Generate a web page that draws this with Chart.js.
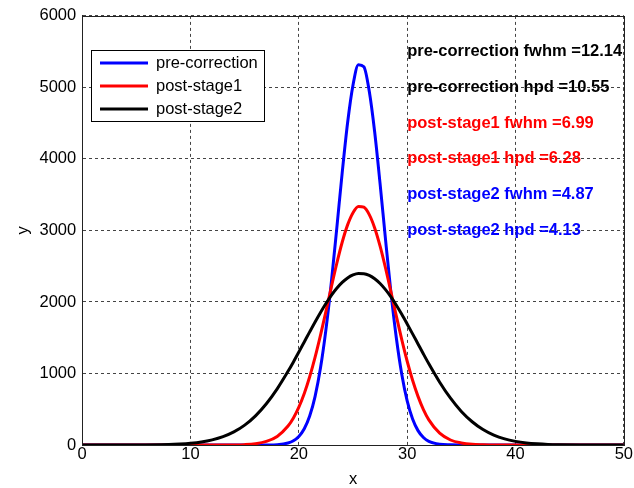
<!DOCTYPE html>
<html>
<head>
<meta charset="utf-8">
<script src="https://cdn.jsdelivr.net/npm/chart.js@4/dist/chart.umd.min.js"></script>
<style>
html, body { margin: 0; padding: 0; background: #fff; }
#wrap { width: 634px; height: 488px; }
</style>
</head>
<body>
<div id="wrap"><canvas id="chart" width="634" height="488"></canvas></div>
<script>
// x positions of the samples (finer around the peaks)
const xValues = [0, 5, 8, 9, 10, 11, 12, 13, 14, 15, 16, 17, 18, 19,
    19.5, 20, 20.5, 21, 21.5, 22, 22.5, 23, 23.5, 24, 24.5, 25, 25.5, 26,
    26.5, 27, 27.5, 28, 28.5, 29, 29.5, 30, 30.5, 31, 31.5, 32,
    33, 34, 35, 36, 37, 38, 39, 40, 41, 42, 43, 44, 46, 50];
const preCorrection = [0, 0, 0, 0, 0, 0, 0, 0, 0, 0, 0, 1, 5, 28,
    60, 120, 227, 405, 681, 1079, 1613, 2276, 3030, 3805, 4506, 5034, 5318, 5290,
    4946, 4376, 3652, 2875, 2135, 1496, 989, 616, 363, 201, 105, 52,
    11, 2, 0, 0, 0, 0, 0, 0, 0, 0, 0, 0, 0, 0];
const postStage1 = [0, 0, 0, 0, 0, 0, 0, 0, 1, 5, 18, 50, 120, 265,
    378, 529, 721, 955, 1229, 1537, 1869, 2209, 2538, 2835, 3078, 3249, 3336, 3325,
    3221, 3035, 2780, 2475, 2142, 1802, 1473, 1171, 905, 680, 496, 352,
    165, 70, 28, 9, 3, 0, 0, 0, 0, 0, 0, 0, 0, 0];
const postStage2 = [0, 0, 6, 13, 24, 42, 72, 117, 183, 278, 408, 577, 785, 1030,
    1162, 1300, 1441, 1582, 1721, 1854, 1978, 2092, 2191, 2273, 2336, 2378, 2398, 2396,
    2371, 2325, 2258, 2172, 2070, 1954, 1828, 1693, 1554, 1413, 1272, 1135,
    878, 654, 469, 325, 216, 138, 85, 51, 29, 16, 8, 4, 1, 0];
const seriesNames = ["pre-correction", "post-stage1", "post-stage2"];
const xTicks = [0, 10, 20, 30, 40, 50];
const yTicks = [0, 1000, 2000, 3000, 4000, 5000, 6000];
const statLabels = [
    "pre-correction fwhm =12.14",
    "pre-correction hpd =10.55",
    "post-stage1 fwhm =6.99",
    "post-stage1 hpd =6.28",
    "post-stage2 fwhm =4.87",
    "post-stage2 hpd =4.13",
];

const FONT = "'Liberation Sans', Arial, sans-serif";
const statColors = ["#000000", "#000000", "#ff0000", "#ff0000", "#0000ff", "#0000ff"];

function toPoints(values) {
    return xValues.map((x, i) => ({ x: x, y: values[i] }));
}

// box round the axes, the text block on the right and the legend
const extras = {
    id: "extras",
    afterDatasetsDraw(chart) {
        const ctx = chart.ctx;
        const a = chart.chartArea;
        const sx = chart.scales.x;
        const sy = chart.scales.y;
        ctx.save();

        ctx.font = "bold 16.5px " + FONT;
        ctx.textAlign = "left";
        ctx.textBaseline = "middle";
        statLabels.forEach((t, i) => {
            ctx.fillStyle = statColors[i];
            ctx.fillText(t, sx.getPixelForValue(30), sy.getPixelForValue(5500 - 500 * i));
        });

        ctx.strokeStyle = "#222";
        ctx.lineWidth = 1;
        ctx.setLineDash([]);
        ctx.strokeRect(Math.round(a.left) + 0.5, Math.round(a.top) + 0.5,
            Math.round(a.width), Math.round(a.height));

        // legend
        const lx = Math.round(a.left) + 9, ly = Math.round(a.top) + 34;
        ctx.fillStyle = "#fff";
        ctx.fillRect(lx, ly, 173, 71);
        ctx.strokeStyle = "#000";
        ctx.strokeRect(lx + 0.5, ly + 0.5, 173, 71);
        ctx.font = "16.5px " + FONT;
        chart.data.datasets.forEach((ds, i) => {
            const yy = ly + 13 + i * 23;
            ctx.strokeStyle = ds.borderColor;
            ctx.lineWidth = 3;
            ctx.beginPath();
            ctx.moveTo(lx + 9, yy);
            ctx.lineTo(lx + 57, yy);
            ctx.stroke();
            ctx.fillStyle = "#000";
            ctx.fillText(ds.label, lx + 65, yy);
        });
        ctx.restore();
    },
};

new Chart(document.getElementById("chart"), {
    type: "line",
    data: {
        datasets: [
            { label: seriesNames[0], data: toPoints(preCorrection), borderColor: "#0000ff", order: 2 },
            { label: seriesNames[1], data: toPoints(postStage1), borderColor: "#ff0000", order: 1 },
            { label: seriesNames[2], data: toPoints(postStage2), borderColor: "#000000", order: 0 },
        ],
    },
    options: {
        responsive: false,
        animation: false,
        layout: { padding: { left: 15, right: 9, top: 5, bottom: 0 } },
        elements: {
            point: { radius: 0 },
            line: { borderWidth: 3, cubicInterpolationMode: "monotone" },
        },
        plugins: { legend: { display: false }, tooltip: { enabled: false } },
        scales: {
            x: {
                type: "linear",
                min: 0,
                max: 50,
                afterBuildTicks: (axis) => { axis.ticks = xTicks.map((v) => ({ value: v })); },
                ticks: { color: "#000", padding: 1, maxRotation: 0, callback: (v) => String(v),
                    font: { family: FONT, size: 16.5, lineHeight: 1 } },
                grid: { color: "#444", drawTicks: false },
                border: { dash: [3, 3], color: "#222" },
                title: { display: true, text: "x", color: "#000", padding: { top: 8, bottom: 0 },
                    font: { family: FONT, size: 16.5, lineHeight: 1 } },
            },
            y: {
                min: 0,
                max: 6000,
                afterBuildTicks: (axis) => { axis.ticks = yTicks.map((v) => ({ value: v })); },
                ticks: { color: "#000", padding: 6, callback: (v) => String(v),
                    font: { family: FONT, size: 16.5 } },
                grid: { color: "#444", drawTicks: false },
                border: { dash: [3, 3], color: "#222" },
                title: { display: true, text: "y", color: "#000", padding: { top: 0, bottom: 2 },
                    font: { family: FONT, size: 16.5, lineHeight: 1 } },
            },
        },
    },
    plugins: [extras],
});
</script>
</body>
</html>
